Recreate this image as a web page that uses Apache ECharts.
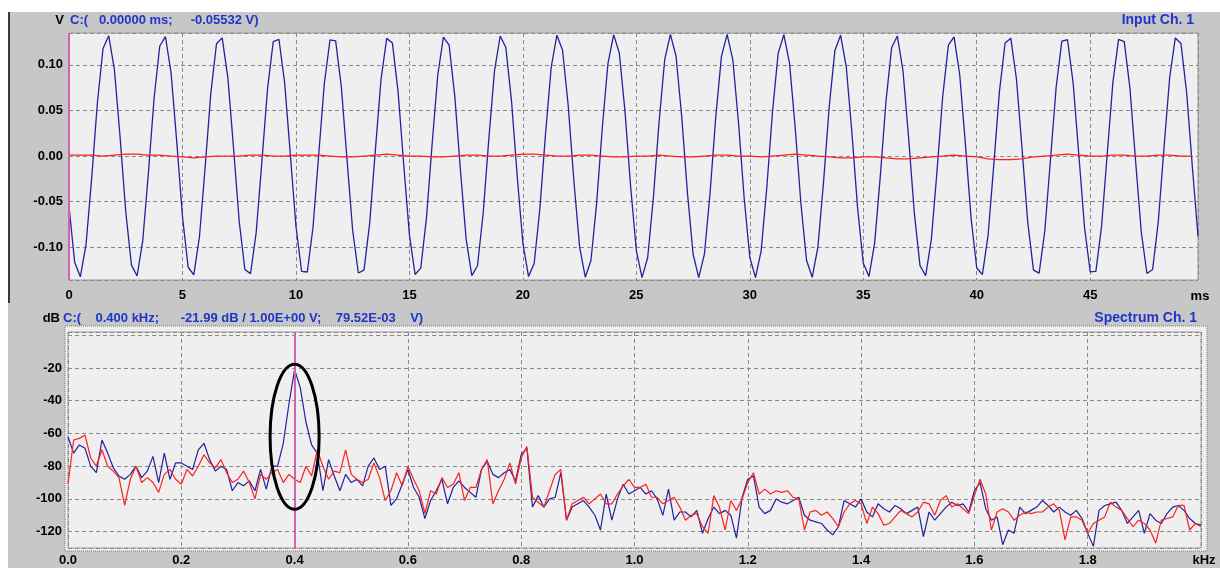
<!DOCTYPE html>
<html>
<head>
<meta charset="utf-8">
<script src="https://cdn.jsdelivr.net/npm/echarts@6/dist/echarts.min.js"></script>
<style>
html,body{margin:0;padding:0;background:#ffffff;}
#chart{width:1220px;height:568px;}
</style>
</head>
<body>
<div id="chart"></div>
<script>
// ---------- DATA ----------
// Input Ch. 1 waveform, sampled every 0.25 ms (200 samples, 0 .. 49.75 ms), volts
const timeStepMs = 0.25;
const inputVolts = [
-0.0554,-0.1165,-0.1325,-0.0972,-0.0242,0.0582,0.1180,0.1321,0.0950,0.0211,
-0.0609,-0.1194,-0.1316,-0.0928,-0.0181,0.0637,0.1207,0.1310,0.0906,0.0150,
-0.0663,-0.1220,-0.1304,-0.0883,-0.0120,0.0690,0.1232,0.1297,0.0860,0.0089,
-0.0716,-0.1244,-0.1290,-0.0836,-0.0058,0.0742,0.1255,0.1281,0.0811,0.0027,
-0.0768,-0.1265,-0.1272,-0.0787,0.0004,0.0793,0.1275,0.1263,0.0761,-0.0035,
-0.0817,-0.1283,-0.1252,-0.0736,0.0065,0.0842,0.1291,0.1241,0.0710,-0.0096,
-0.0865,-0.1299,-0.1230,-0.0684,0.0127,0.0889,0.1306,0.1217,0.0657,-0.0158,
-0.0911,-0.1312,-0.1204,-0.0630,0.0188,0.0934,0.1317,0.1190,0.0603,-0.0219,
-0.0955,-0.1322,-0.1176,-0.0575,0.0249,0.0977,0.1326,0.1161,0.0547,-0.0280,
-0.0997,-0.1329,-0.1146,-0.0519,0.0310,0.1018,0.1332,0.1130,0.0490,-0.0340,
-0.1037,-0.1334,-0.1113,-0.0461,0.0369,0.1057,0.1335,0.1095,0.0432,-0.0399,
-0.1075,-0.1335,-0.1077,-0.0403,0.0428,0.1093,0.1335,0.1059,0.0373,-0.0458,
-0.1111,-0.1334,-0.1040,-0.0343,0.0486,0.1128,0.1332,0.1020,0.0313,-0.0515,
-0.1144,-0.1330,-0.1000,-0.0283,0.0543,0.1159,0.1326,0.0979,0.0253,-0.0571,
-0.1174,-0.1322,-0.0958,-0.0223,0.0599,0.1189,0.1318,0.0936,0.0192,-0.0627,
-0.1202,-0.1313,-0.0914,-0.0162,0.0653,0.1216,0.1307,0.0892,0.0131,-0.0680,
-0.1228,-0.1300,-0.0868,-0.0100,0.0707,0.1240,0.1293,0.0845,0.0069,-0.0733,
-0.1251,-0.1284,-0.0820,-0.0038,0.0758,0.1261,0.1276,0.0796,0.0008,-0.0784,
-0.1271,-0.1266,-0.0771,0.0023,0.0808,0.1280,0.1256,0.0745,-0.0054,-0.0833,
-0.1289,-0.1245,-0.0720,0.0085,0.0857,0.1296,0.1234,0.0694,-0.0116,-0.0880
];
// Residual (red) trace in the time plot, every 0.5 ms, volts
const residualStepMs = 0.5;
const residualVolts = [
0.001,0.001,0.001,0.000,0.001,0.002,0.002,0.001,0.001,0.000,
-0.001,-0.002,-0.001,0.000,0.000,0.000,0.001,0.001,0.000,0.000,
0.001,0.001,0.001,0.000,-0.001,-0.001,0.000,0.001,0.002,0.001,
0.000,0.000,-0.001,-0.001,0.000,0.001,0.001,0.000,0.000,0.001,
0.002,0.002,0.001,0.000,0.000,0.001,0.001,0.000,-0.001,-0.001,
0.000,0.000,0.001,0.000,-0.001,-0.001,0.000,0.001,0.001,0.000,
0.000,-0.001,0.000,0.001,0.002,0.001,0.000,-0.001,-0.002,-0.002,
-0.001,-0.001,-0.002,-0.003,-0.003,-0.002,-0.001,0.000,0.001,0.000,
-0.001,-0.003,-0.004,-0.004,-0.003,-0.001,0.000,0.001,0.002,0.001,
0.000,0.000,0.001,0.001,0.000,0.000,0.001,0.001,0.000,0.000
];
// Spectrum Ch. 1, every 0.01 kHz (0 .. 2.00 kHz), dB
const freqStepKHz = 0.01;
const spectrumInputDb = [
-62,-72,-67,-69,-80,-84,-64,-72,-81,-86,
-88,-85,-80,-87,-83,-74,-90,-72,-88,-78,
-78,-80,-82,-70,-66,-76,-83,-80,-82,-95,
-90,-92,-89,-95,-82,-94,-80,-80,-66,-42,
-21,-32,-53,-67,-72,-95,-76,-86,-95,-85,
-90,-88,-92,-80,-75,-82,-80,-104,-100,-91,
-82,-93,-99,-112,-101,-95,-88,-103,-93,-89,
-93,-96,-99,-82,-77,-85,-87,-84,-82,-89,
-73,-69,-105,-98,-105,-100,-99,-84,-113,-105,
-103,-101,-105,-110,-119,-97,-113,-100,-91,-97,
-95,-93,-97,-95,-100,-110,-94,-113,-108,-108,
-111,-107,-121,-112,-105,-109,-107,-110,-124,-99,
-88,-86,-105,-109,-107,-100,-102,-103,-101,-99,
-110,-113,-114,-115,-119,-122,-117,-101,-103,-105,
-100,-108,-111,-103,-106,-108,-104,-106,-109,-107,
-105,-123,-108,-113,-109,-105,-102,-104,-103,-108,
-95,-90,-106,-113,-111,-128,-119,-121,-105,-109,
-107,-105,-101,-104,-108,-105,-108,-110,-107,-112,
-121,-129,-107,-104,-103,-102,-107,-115,-111,-107,
-121,-109,-113,-115,-109,-105,-104,-107,-112,-115,
-116
];
const spectrumResidualDb = [
-91,-64,-63,-61,-75,-80,-70,-80,-83,-87,
-104,-88,-80,-90,-87,-90,-96,-85,-82,-88,
-91,-82,-86,-80,-73,-78,-81,-76,-84,-90,
-88,-83,-90,-100,-85,-88,-84,-82,-90,-85,
-88,-90,-80,-86,-70,-80,-88,-83,-84,-70,
-85,-88,-90,-88,-78,-87,-101,-95,-84,-92,
-80,-88,-95,-109,-95,-97,-87,-93,-91,-84,
-101,-93,-93,-82,-76,-103,-95,-88,-78,-91,
-75,-68,-99,-102,-105,-95,-85,-82,-113,-103,
-101,-99,-103,-100,-97,-103,-103,-97,-92,-88,
-93,-93,-91,-99,-99,-103,-101,-99,-105,-113,
-110,-109,-117,-121,-98,-105,-119,-101,-107,-100,
-90,-84,-97,-94,-97,-95,-96,-95,-99,-100,
-119,-108,-107,-110,-108,-112,-117,-108,-103,-101,
-103,-115,-105,-109,-116,-115,-111,-107,-109,-111,
-108,-102,-103,-110,-101,-98,-105,-103,-106,-109,
-98,-88,-97,-119,-108,-106,-108,-113,-110,-108,
-109,-108,-108,-105,-103,-107,-125,-111,-111,-113,
-121,-115,-113,-111,-102,-105,-107,-112,-117,-113,
-115,-119,-127,-113,-112,-111,-104,-104,-119,-115,
-117
];
const timeTickMs = 5;
const freqTickKHz = 0.2;
const cursorTimeMs = 0;
const cursorFreqKHz = 0.4;
const headerTime = 'C:(   0.00000 ms;     -0.05532 V)';
const headerSpec = 'C:(    0.400 kHz;      -21.99 dB / 1.00E+00 V;    79.52E-03    V)';

// ---------- BUILD ----------
const toPairs = (arr, step) => arr.map((v, i) => [+(i * step).toFixed(4), v]);
const FONT = 'Arial, "Liberation Sans", sans-serif';
const BLUE_TXT = '#1f35c8';
const LINE_BLUE = '#22229a';
const LINE_RED = '#ff1f1f';
const CURSOR = '#d062b0';
const gridLine = { show: true, lineStyle: { color: '#8a8a8a', type: [4, 3], width: 1 } };
const lbl = { color: '#000', fontWeight: 'bold', fontSize: 13, fontFamily: FONT };

const chart = echarts.init(document.getElementById('chart'), null, { renderer: 'canvas' });

const option = {
  animation: false,
  backgroundColor: '#ffffff',
  grid: [
    { left: 69, right: 22, top: 33, height: 247, show: true, backgroundColor: '#efefef', borderColor: '#9a9a9a', borderWidth: 1 },
    { left: 68, right: 19, top: 332, height: 216, show: true, backgroundColor: '#efefef', borderColor: '#9a9a9a', borderWidth: 1 }
  ],
  xAxis: [
    { type: 'value', gridIndex: 0, min: 0, max: 49.75, interval: timeTickMs,
      axisLine: { show: false }, axisTick: { show: false }, splitLine: gridLine,
      axisLabel: Object.assign({}, lbl, { margin: 9, showMaxLabel: false, formatter: v => (v > 49 ? '' : String(Math.round(v))) }) },
    { type: 'value', gridIndex: 1, min: 0, max: 2.0, interval: freqTickKHz,
      axisLine: { show: false }, axisTick: { show: false }, splitLine: gridLine,
      axisLabel: Object.assign({}, lbl, { margin: 6, showMaxLabel: false, formatter: v => (v > 1.95 ? '' : v.toFixed(1)) }) }
  ],
  yAxis: [
    { type: 'value', gridIndex: 0, min: -0.136, max: 0.135, splitNumber: 5,
      axisLine: { show: false }, axisTick: { show: false }, splitLine: gridLine,
      axisLabel: Object.assign({}, lbl, { margin: 6, showMinLabel: false, showMaxLabel: false, formatter: v => v.toFixed(2) }) },
    { type: 'value', gridIndex: 1, min: -130, max: 2, splitNumber: 6,
      axisLine: { show: false }, axisTick: { show: false }, splitLine: gridLine,
      axisLabel: Object.assign({}, lbl, { margin: 6, showMinLabel: false, showMaxLabel: false, formatter: v => (v === 0 ? '' : String(v)) }) }
  ],
  series: [
    { type: 'line', xAxisIndex: 0, yAxisIndex: 0, data: toPairs(inputVolts, timeStepMs), showSymbol: false,
      lineStyle: { color: LINE_BLUE, width: 1.3 }, z: 3,
      markLine: { silent: true, symbol: 'none', label: { show: false },
        lineStyle: { color: CURSOR, width: 2, type: 'solid' }, data: [{ xAxis: cursorTimeMs }] } },
    { type: 'line', xAxisIndex: 0, yAxisIndex: 0, data: toPairs(residualVolts, residualStepMs), showSymbol: false,
      lineStyle: { color: LINE_RED, width: 1.3 }, z: 4 },
    { type: 'line', xAxisIndex: 1, yAxisIndex: 1, data: toPairs(spectrumInputDb, freqStepKHz), showSymbol: false,
      lineStyle: { color: LINE_BLUE, width: 1.2 }, z: 3,
      markLine: { silent: true, symbol: 'none', label: { show: false },
        lineStyle: { color: CURSOR, width: 2, type: 'solid' }, data: [{ xAxis: cursorFreqKHz }] } },
    { type: 'line', xAxisIndex: 1, yAxisIndex: 1, data: toPairs(spectrumResidualDb, freqStepKHz), showSymbol: false,
      lineStyle: { color: LINE_RED, width: 1.2 }, z: 4 }
  ]
};
chart.setOption(option);

// ellipse annotation around the 0.4 kHz peak (data coordinates)
const ellC = chart.convertToPixel({ gridIndex: 1 }, [cursorFreqKHz, -62]);
const ellX = chart.convertToPixel({ gridIndex: 1 }, [cursorFreqKHz + 0.0433, -62]);
const ellY = chart.convertToPixel({ gridIndex: 1 }, [cursorFreqKHz, -62 + 44.3]);

const txt = (x, y, s, color, align, size) => ({
  type: 'text', x: x, y: y, z: 50, silent: true,
  style: { text: s, fill: color, font: 'bold ' + (size || 13) + 'px ' + FONT, textAlign: align || 'left', textVerticalAlign: 'middle' }
});

chart.setOption({
  graphic: [
    { type: 'rect', z: -10, silent: true, shape: { x: 8, y: 12, width: 1212, height: 556 }, style: { fill: '#c7c7c7' } },
    { type: 'rect', z: -9, silent: true, shape: { x: 8, y: 12, width: 2, height: 291 }, style: { fill: '#3a3a3a' } },
    { type: 'rect', z: -8, silent: true, shape: { x: 65, y: 326, width: 1142, height: 225 },
      style: { fill: '#efefef', stroke: '#7a7a7a', lineWidth: 1, lineDash: [1, 1] } },
    { type: 'ellipse', z: 60, silent: true,
      shape: { cx: ellC[0], cy: ellC[1], rx: Math.abs(ellX[0] - ellC[0]), ry: Math.abs(ellY[1] - ellC[1]) },
      style: { fill: 'none', stroke: '#000', lineWidth: 3 } },
    txt(64, 20, 'V', '#000', 'right'),
    txt(70, 20, headerTime, BLUE_TXT),
    txt(1194, 20, 'Input Ch. 1', BLUE_TXT, 'right', 14),
    txt(1200, 296, 'ms', '#000', 'center'),
    txt(60, 318, 'dB', '#000', 'right'),
    txt(63, 318, headerSpec, BLUE_TXT),
    txt(1197, 318, 'Spectrum Ch. 1', BLUE_TXT, 'right', 14),
    txt(1204, 560, 'kHz', '#000', 'center')
  ]
});
</script>
</body>
</html>
